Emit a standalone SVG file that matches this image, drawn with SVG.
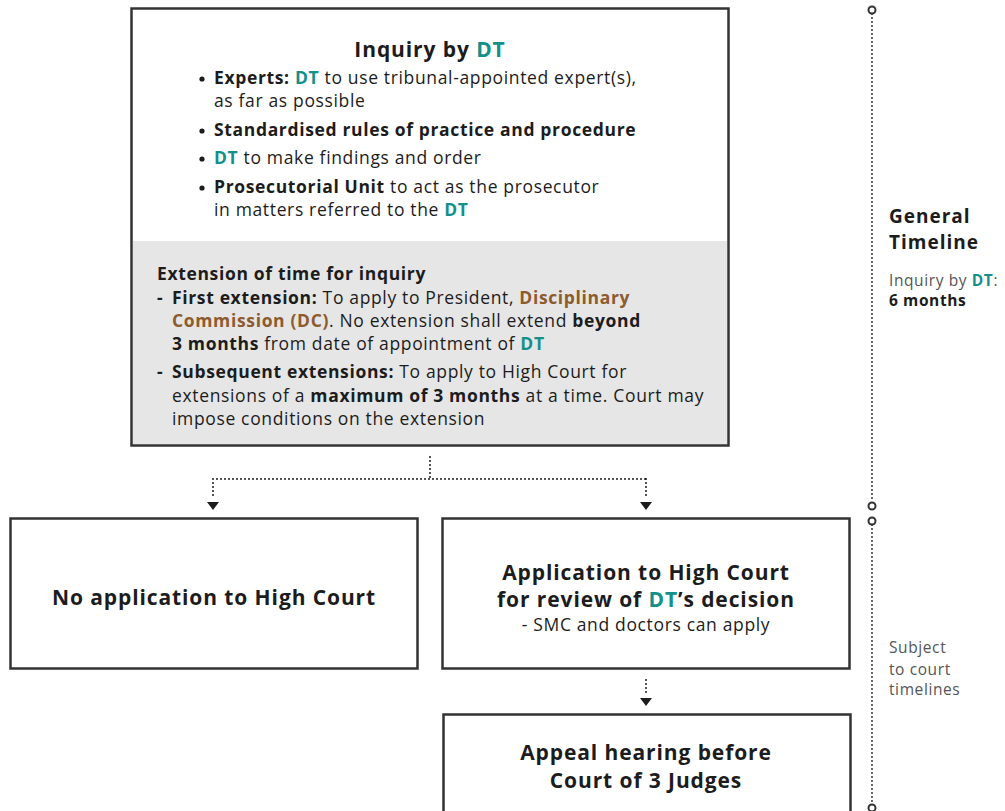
<svg xmlns="http://www.w3.org/2000/svg" width="1005" height="811" viewBox="0 0 1005 811">
<defs>
<style>
text{font-family:"Open Sans","Noto Sans",sans-serif;fill:#1c1c1c}
.t{font-size:21px;font-weight:700;letter-spacing:0.9px}
.b{font-size:17.5px;letter-spacing:0.65px}
.bd{font-weight:700}
.dt{fill:#14908b;font-weight:700}
.dc{fill:#8d5b2c;font-weight:700}
.box{fill:#fff;stroke:#333;stroke-width:2.5}
.dot{fill:none;stroke:#1c1c1c;stroke-width:2;stroke-dasharray:0 4;stroke-linecap:round}
.tl{fill:none;stroke:#333;stroke-width:2;stroke-dasharray:0 4;stroke-linecap:round}
.ring{fill:#fff;stroke:#333;stroke-width:2}
.g{fill:#555;font-size:15.5px;letter-spacing:0.6px}
.h{font-size:19px;font-weight:700;letter-spacing:1px}
.ah{fill:#1c1c1c}
</style>
</defs>

<g id="inquiry">
<rect class="box" x="131.5" y="8.5" width="597" height="437"/>
<rect x="133" y="241" width="594" height="203" fill="#e6e6e6"/>
<text class="t" x="430" y="57" text-anchor="middle">Inquiry by <tspan class="dt">DT</tspan></text>
<circle cx="202" cy="79" r="2.6" fill="#1c1c1c"/>
<text class="b" x="214" y="84"><tspan class="bd">Experts: </tspan><tspan class="dt">DT</tspan> to use tribunal-appointed expert(s),</text>
<text class="b" x="214" y="107">as far as possible</text>
<circle cx="202" cy="131" r="2.6" fill="#1c1c1c"/>
<text class="b bd" x="214" y="136">Standardised rules of practice and procedure</text>
<circle cx="202" cy="159" r="2.6" fill="#1c1c1c"/>
<text class="b" x="214" y="164"><tspan class="dt">DT</tspan> to make findings and order</text>
<circle cx="202" cy="188" r="2.6" fill="#1c1c1c"/>
<text class="b" x="214" y="193"><tspan class="bd">Prosecutorial Unit</tspan> to act as the prosecutor</text>
<text class="b" x="214" y="216">in matters referred to the <tspan class="dt">DT</tspan></text>
<text class="b bd" x="157" y="280">Extension of time for inquiry</text>
<text class="b bd" x="157" y="304">-</text>
<text class="b" x="172" y="304"><tspan class="bd">First extension: </tspan>To apply to President, <tspan class="dc">Disciplinary</tspan></text>
<text class="b" x="172" y="327"><tspan class="dc">Commission (DC)</tspan>. No extension shall extend <tspan class="bd">beyond</tspan></text>
<text class="b" x="172" y="350"><tspan class="bd">3 months</tspan> from date of appointment of <tspan class="dt">DT</tspan></text>
<text class="b bd" x="157" y="378">-</text>
<text class="b" x="172" y="378"><tspan class="bd">Subsequent extensions: </tspan>To apply to High Court for</text>
<text class="b" x="172" y="402">extensions of a <tspan class="bd">maximum of 3 months</tspan> at a time. Court may</text>
<text class="b" x="172" y="425">impose conditions on the extension</text>
</g>

<g id="no-application">
<rect class="box" x="10.5" y="518.5" width="407" height="150"/>
<text class="t" x="214" y="605" text-anchor="middle">No application to High Court</text>
</g>

<g id="application">
<rect class="box" x="442.5" y="518.5" width="407" height="150"/>
<text class="t" x="646" y="580" text-anchor="middle">Application to High Court</text>
<text class="t" x="646" y="607" text-anchor="middle">for review of <tspan class="dt">DT</tspan>’s decision</text>
<text class="b" x="646" y="631" text-anchor="middle">- SMC and doctors can apply</text>
</g>

<g id="appeal">
<rect class="box" x="443.5" y="714.5" width="407" height="110"/>
<text class="t" x="646" y="760" text-anchor="middle">Appeal hearing before</text>
<text class="t" x="646" y="788" text-anchor="middle">Court of 3 Judges</text>
</g>

<g id="connectors">
<path class="dot" d="M430,457 V479 M213,479 H646 M213,479 V499 M646,479 V499 M646,680 V696"/>
<path class="ah" d="M207,502 L219,502 L213,510 Z"/>
<path class="ah" d="M640,502 L652,502 L646,510 Z"/>
<path class="ah" d="M640,698 L652,698 L646,706 Z"/>
</g>

<g id="timeline">
<path class="tl" d="M872,14 V502 M872,525 V804"/>
<circle class="ring" cx="872" cy="10" r="3.5"/>
<circle class="ring" cx="872" cy="506" r="3.5"/>
<circle class="ring" cx="872" cy="521" r="3.5"/>
<circle class="ring" cx="872" cy="808" r="3.5"/>
<text class="h" x="889" y="223">General</text>
<text class="h" x="889" y="249">Timeline</text>
<text class="g" x="889" y="286">Inquiry by <tspan class="dt">DT</tspan>:</text>
<text x="889" y="306" style="font-size:15.5px;font-weight:700;letter-spacing:0.6px">6 months</text>
<text class="g" x="889" y="653">Subject</text>
<text class="g" x="889" y="675">to court</text>
<text class="g" x="889" y="695">timelines</text>
</g>
</svg>
